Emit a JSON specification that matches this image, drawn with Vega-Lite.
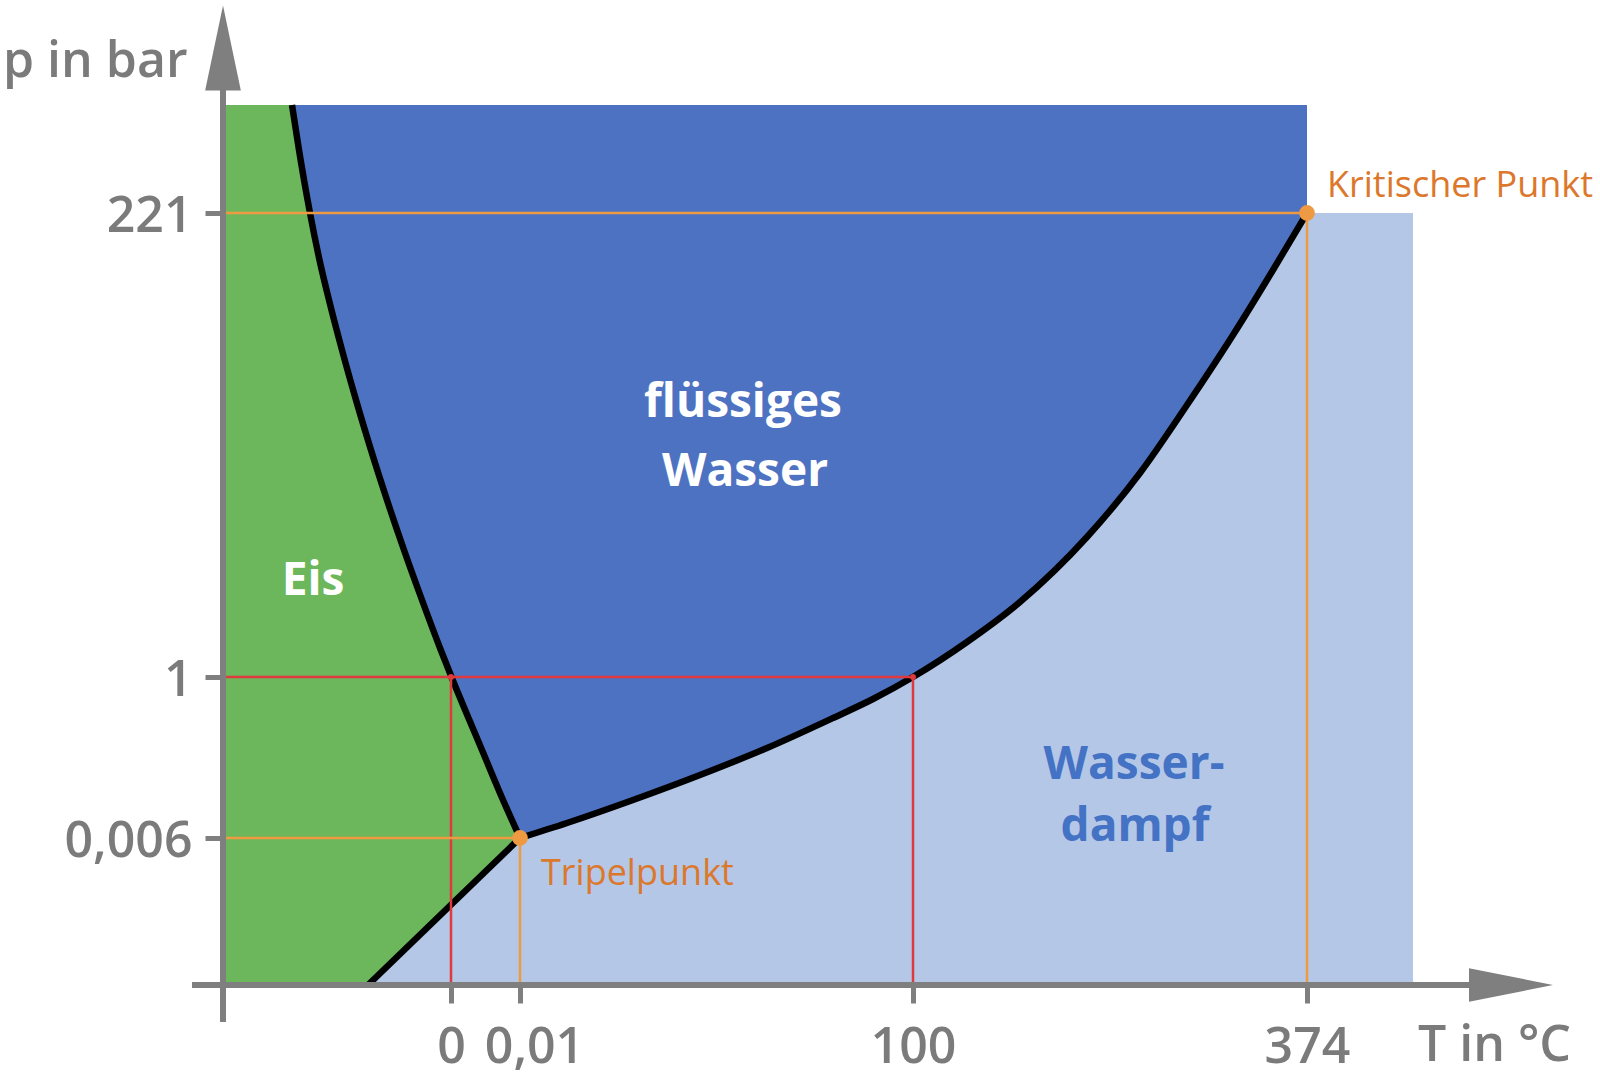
{
  "$schema": "https://vega.github.io/schema/vega-lite/v6.json",
  "width": 1377,
  "height": 985,
  "autosize": {"type": "none"},
  "padding": {"left": 223, "top": 0, "right": 0, "bottom": 91},
  "background": "white",
  "config": {"view": {"stroke": null}},
  "datasets": {
    "boundary": [
      {"seg": "Sublimationskurve", "x": 145, "y": 0},
      {"seg": "Sublimationskurve", "x": 297, "y": 147},
      {"seg": "Schmelzkurve", "x": 69, "y": 880},
      {"seg": "Schmelzkurve", "x": 76, "y": 835},
      {"seg": "Schmelzkurve", "x": 87, "y": 772},
      {"seg": "Schmelzkurve", "x": 96.5, "y": 725},
      {"seg": "Schmelzkurve", "x": 106, "y": 685},
      {"seg": "Schmelzkurve", "x": 119, "y": 635},
      {"seg": "Schmelzkurve", "x": 133, "y": 585},
      {"seg": "Schmelzkurve", "x": 148, "y": 535},
      {"seg": "Schmelzkurve", "x": 164, "y": 485},
      {"seg": "Schmelzkurve", "x": 181, "y": 435},
      {"seg": "Schmelzkurve", "x": 199, "y": 385},
      {"seg": "Schmelzkurve", "x": 217, "y": 337},
      {"seg": "Schmelzkurve", "x": 228.5, "y": 308},
      {"seg": "Schmelzkurve", "x": 259, "y": 235},
      {"seg": "Schmelzkurve", "x": 280, "y": 185},
      {"seg": "Schmelzkurve", "x": 297, "y": 147},
      {"seg": "Dampfdruckkurve", "x": 297, "y": 147},
      {"seg": "Dampfdruckkurve", "x": 344, "y": 162},
      {"seg": "Dampfdruckkurve", "x": 410, "y": 185},
      {"seg": "Dampfdruckkurve", "x": 477, "y": 210},
      {"seg": "Dampfdruckkurve", "x": 544, "y": 237},
      {"seg": "Dampfdruckkurve", "x": 610, "y": 267},
      {"seg": "Dampfdruckkurve", "x": 650, "y": 286},
      {"seg": "Dampfdruckkurve", "x": 690, "y": 308},
      {"seg": "Dampfdruckkurve", "x": 744, "y": 343},
      {"seg": "Dampfdruckkurve", "x": 797, "y": 383},
      {"seg": "Dampfdruckkurve", "x": 864, "y": 448},
      {"seg": "Dampfdruckkurve", "x": 917, "y": 512},
      {"seg": "Dampfdruckkurve", "x": 964, "y": 580},
      {"seg": "Dampfdruckkurve", "x": 1010, "y": 650},
      {"seg": "Dampfdruckkurve", "x": 1050, "y": 715},
      {"seg": "Dampfdruckkurve", "x": 1084, "y": 772}
    ],
    "regions": [
      {"region": "Wasserdampf", "x": 0, "x2": 1190, "y": 0, "y2": 772},
      {"region": "Wasser", "x": 0, "x2": 1084, "y": 147, "y2": 880}
    ],
    "guides": [
      {"kind": "rot", "x": 0, "x2": 690, "y": 308, "y2": 308},
      {"kind": "rot", "x": 228, "x2": 228, "y": 0, "y2": 308},
      {"kind": "rot", "x": 690, "x2": 690, "y": 0, "y2": 308},
      {"kind": "orange", "x": 0, "x2": 1084, "y": 772, "y2": 772},
      {"kind": "orange", "x": 0, "x2": 297, "y": 147, "y2": 147},
      {"kind": "orange", "x": 297, "x2": 297, "y": 0, "y2": 147},
      {"kind": "orange", "x": 1084, "x2": 1084, "y": 0, "y2": 772}
    ],
    "points": [
      {"kind": "orange", "name": "Tripelpunkt", "x": 297, "y": 147},
      {"kind": "orange", "name": "Kritischer Punkt", "x": 1084, "y": 772},
      {"kind": "rot", "name": "Schmelzpunkt", "x": 228, "y": 308},
      {"kind": "rot", "name": "Siedepunkt", "x": 690, "y": 308}
    ],
    "axislines": [
      {"axis": "T", "x": -31, "x2": 1250, "y": 0, "y2": 0},
      {"axis": "p", "x": 0, "x2": 0, "y": -37, "y2": 900}
    ],
    "arrows": [
      {"axis": "T", "x": 1288, "y": 0},
      {"axis": "p", "x": 0, "y": 937}
    ],
    "labels": [
      {"kind": "achse", "text": "p in bar", "x": -220, "y": 908},
      {"kind": "achse", "text": "T in °C", "x": 1195, "y": -76},
      {"kind": "weiss", "text": "flüssiges", "x": 520, "y": 568},
      {"kind": "weiss", "text": "Wasser", "x": 522, "y": 499},
      {"kind": "weiss", "text": "Eis", "x": 90, "y": 390},
      {"kind": "blau", "text": "Wasser-", "x": 911, "y": 206},
      {"kind": "blau", "text": "dampf", "x": 912, "y": 144},
      {"kind": "punkt", "text": "Tripelpunkt", "x": 318, "y": 100},
      {"kind": "punkt", "text": "Kritischer Punkt", "x": 1104, "y": 788}
    ]
  },
  "encoding": {
    "x": {
      "field": "x",
      "type": "quantitative",
      "scale": {"domain": [0, 1377], "nice": false, "zero": false},
      "axis": {
        "title": null,
        "values": [228, 297, 690, 1084],
        "labelExpr": "datum.value == 228 ? '0' : datum.value == 297 ? '0,01' : datum.value == 690 ? '100' : '374'",
        "domain": false,
        "grid": false,
        "ticks": true,
        "tickSize": 18,
        "tickWidth": 5,
        "tickColor": "#7f7f7f",
        "labelFont": "Open Sans",
        "labelFontSize": 50,
        "labelFontWeight": 600,
        "labelColor": "#7b7b7b",
        "labelPadding": 19,
        "labelFlush": false,
        "labelOverlap": false,
        "labelOffset": {"condition": {"test": "datum.value === 297", "value": 14}, "value": 0},
        "zindex": 1
      }
    },
    "y": {
      "field": "y",
      "type": "quantitative",
      "scale": {"domain": [0, 985], "nice": false, "zero": false},
      "axis": {
        "title": null,
        "values": [147, 308, 772],
        "labelExpr": "datum.value == 147 ? '0,006' : datum.value == 308 ? '1' : '221'",
        "domain": false,
        "grid": false,
        "ticks": true,
        "tickSize": 18,
        "tickWidth": 5,
        "tickColor": "#7f7f7f",
        "labelFont": "Open Sans",
        "labelFontSize": 50,
        "labelFontWeight": 600,
        "labelColor": "#7b7b7b",
        "labelPadding": 13,
        "labelOffset": 3,
        "labelFlush": false,
        "labelOverlap": false,
        "zindex": 1
      }
    }
  },
  "layer": [
    {
      "data": {"name": "regions"},
      "transform": [{"filter": "datum.region == 'Wasserdampf'"}],
      "mark": {"type": "rect", "color": "#b4c7e7"},
      "encoding": {"x2": {"field": "x2"}, "y2": {"field": "y2"}}
    },
    {
      "data": {"name": "regions"},
      "transform": [{"filter": "datum.region == 'Wasser'"}],
      "mark": {"type": "rect", "color": "#4e72c2"},
      "encoding": {"x2": {"field": "x2"}, "y2": {"field": "y2"}}
    },
    {
      "data": {"name": "boundary"},
      "transform": [{"filter": "datum.seg == 'Dampfdruckkurve'"}],
      "mark": {"type": "area", "orient": "vertical", "interpolate": "monotone", "color": "#b4c7e7"},
      "encoding": {"y2": {"datum": 0}}
    },
    {
      "data": {"name": "boundary"},
      "transform": [{"filter": "datum.seg == 'Sublimationskurve'"}],
      "mark": {"type": "area", "orient": "horizontal", "color": "#6cb75c"},
      "encoding": {"x2": {"datum": 0}}
    },
    {
      "data": {"name": "boundary"},
      "transform": [{"filter": "datum.seg == 'Schmelzkurve'"}],
      "mark": {"type": "area", "orient": "horizontal", "interpolate": "monotone", "color": "#6cb75c"},
      "encoding": {"x2": {"datum": 0}}
    },
    {
      "data": {"name": "boundary"},
      "mark": {"type": "line", "color": "#000000", "strokeWidth": 6.5, "strokeJoin": "round", "interpolate": "monotone"},
      "encoding": {"detail": {"field": "seg", "type": "nominal"}}
    },
    {
      "data": {"name": "guides"},
      "mark": {"type": "rule", "strokeWidth": 2.5},
      "encoding": {
        "x2": {"field": "x2"},
        "y2": {"field": "y2"},
        "color": {"field": "kind", "type": "nominal", "scale": {"domain": ["rot", "orange"], "range": ["#e0393e", "#ee9a42"]}, "legend": null}
      }
    },
    {
      "data": {"name": "points"},
      "transform": [{"filter": "datum.kind == 'rot'"}],
      "mark": {"type": "point", "filled": true, "size": 35, "opacity": 1},
      "encoding": {"color": {"field": "kind", "type": "nominal", "legend": null}}
    },
    {
      "data": {"name": "points"},
      "transform": [{"filter": "datum.kind == 'orange'"}],
      "mark": {"type": "point", "filled": true, "size": 250, "opacity": 1},
      "encoding": {"color": {"field": "kind", "type": "nominal", "legend": null}}
    },
    {
      "data": {"name": "axislines"},
      "mark": {"type": "rule", "color": "#7f7f7f", "strokeWidth": 6},
      "encoding": {"x2": {"field": "x2"}, "y2": {"field": "y2"}}
    },
    {
      "data": {"name": "arrows"},
      "transform": [{"filter": "datum.axis == 'T'"}],
      "mark": {"type": "point", "filled": true, "opacity": 1, "color": "#7f7f7f", "size": 7056, "shape": "M-1,-0.4L1,0L-1,0.4Z"}
    },
    {
      "data": {"name": "arrows"},
      "transform": [{"filter": "datum.axis == 'p'"}],
      "mark": {"type": "point", "filled": true, "opacity": 1, "color": "#7f7f7f", "size": 7225, "shape": "M-0.42,1L0,-1L0.42,1Z"}
    },
    {
      "data": {"name": "labels"},
      "transform": [{"filter": "datum.kind == 'achse'"}],
      "mark": {"type": "text", "align": "left", "baseline": "alphabetic", "font": "Open Sans", "fontSize": 50, "fontWeight": 600, "color": "#7b7b7b"},
      "encoding": {"text": {"field": "text"}}
    },
    {
      "data": {"name": "labels"},
      "transform": [{"filter": "datum.kind == 'weiss'"}],
      "mark": {"type": "text", "align": "center", "baseline": "alphabetic", "font": "Open Sans", "fontSize": 46, "fontWeight": 700, "color": "#ffffff"},
      "encoding": {"text": {"field": "text"}}
    },
    {
      "data": {"name": "labels"},
      "transform": [{"filter": "datum.kind == 'blau'"}],
      "mark": {"type": "text", "align": "center", "baseline": "alphabetic", "font": "Open Sans", "fontSize": 46, "fontWeight": 700, "color": "#4472c4"},
      "encoding": {"text": {"field": "text"}}
    },
    {
      "data": {"name": "labels"},
      "transform": [{"filter": "datum.kind == 'punkt'"}],
      "mark": {"type": "text", "align": "left", "baseline": "alphabetic", "font": "Open Sans", "fontSize": 36, "fontWeight": 400, "color": "#dc782c"},
      "encoding": {"text": {"field": "text"}}
    }
  ]
}
